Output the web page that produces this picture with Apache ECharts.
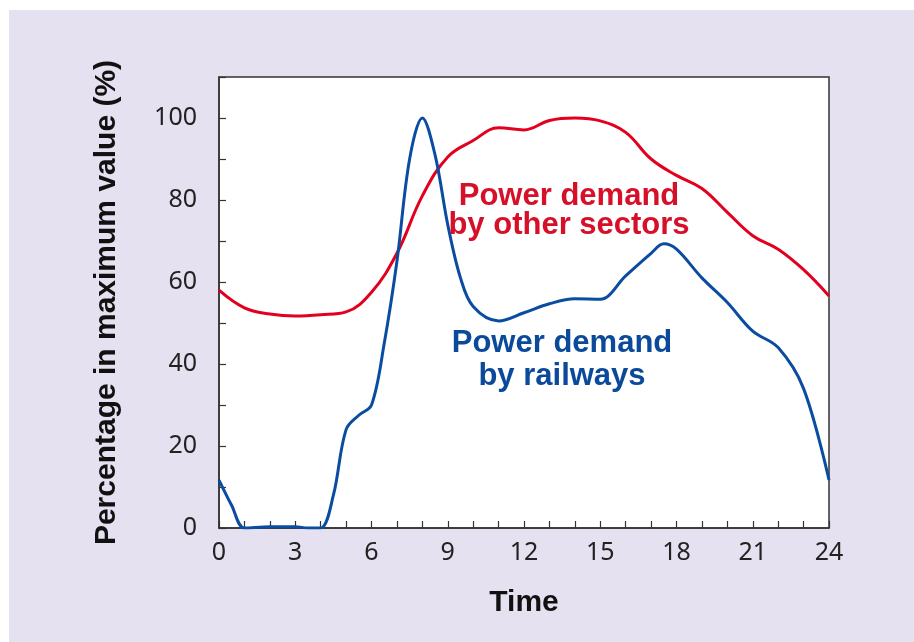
<!DOCTYPE html>
<html>
<head>
<meta charset="utf-8">
<script src="https://cdn.jsdelivr.net/npm/echarts@6/dist/echarts.min.js"></script>
<style>
html,body{margin:0;padding:0;background:#fff;}
#c{width:914px;height:642px;}
</style>
</head>
<body>
<div id="c"></div>
<script>
// Data
var railHours = [0, 0.5, 1, 2, 3, 3.5, 4, 4.5, 5, 5.5, 6, 6.5, 7, 7.5, 8, 8.5, 9, 9.5, 10, 11, 12, 13, 14, 15, 16, 17, 17.5, 18, 19, 20, 21, 22, 23, 24];
var railValues = [11.7, 5.5, 0, 0.3, 0.3, 0, 0, 8, 24, 27.5, 30, 45, 65, 90, 100, 91, 74, 61, 54, 50.5, 52.5, 54.7, 55.9, 55.8, 61.5, 67, 69.3, 68, 61, 55, 48, 44, 34, 11.7];
var otherHours = [0, 1, 2, 3, 4, 5, 6, 7, 8, 9, 10, 11, 12, 13, 14, 15, 16, 17, 18, 19, 20, 21, 22, 23, 24];
var otherValues = [58, 53.7, 52.2, 51.7, 52, 52.7, 57.5, 67, 81, 90.5, 94.5, 97.6, 97.1, 99.4, 100, 99.3, 96.5, 90, 86, 82.8, 77, 71.3, 68, 63, 56.6];
var xTicks = [0, 3, 6, 9, 12, 15, 18, 21, 24];
var yTicks = [0, 20, 40, 60, 80, 100];
var labelOther = 'Power demand\nby other sectors';
var labelRail = 'Power demand\nby railways';

function pairs(xs, ys) { return xs.map(function (x, i) { return [x, ys[i]]; }); }

var chart = echarts.init(document.getElementById('c'));
var tickFont = { fontFamily: '"Noto Sans", sans-serif', fontSize: 25, color: '#222' };
var boldFont = '"Liberation Sans", Arial, sans-serif';
chart.setOption({
  backgroundColor: '#ffffff',
  animation: false,
  graphic: [
    { type: 'rect', z: -10, shape: { x: 9, y: 10, width: 905, height: 632 }, style: { fill: '#E5E1F0' } },
    { type: 'text', z: 10, x: 569, y: 211, style: { text: labelOther, fill: '#D7102A', font: 'bold 31px ' + boldFont, textAlign: 'center', textVerticalAlign: 'middle', lineHeight: 29 } },
    { type: 'text', z: 10, x: 562, y: 360, style: { text: labelRail, fill: '#0B4A9A', font: 'bold 31px ' + boldFont, textAlign: 'center', textVerticalAlign: 'middle', lineHeight: 33 } }
  ],
  grid: { left: 219, right: 85, top: 77, bottom: 114, show: true, backgroundColor: '#ffffff', borderColor: '#333', borderWidth: 1.5 },
  xAxis: {
    type: 'value', min: 0, max: 24, interval: 3,
    name: 'Time', nameLocation: 'middle', nameGap: 60,
    nameTextStyle: { fontFamily: boldFont, fontWeight: 'bold', fontSize: 30, color: '#111' },
    axisLine: { show: true, lineStyle: { color: '#333', width: 1.5 } },
    axisTick: { show: true, inside: true, length: 7, lineStyle: { color: '#333', width: 1.2 } },
    minorTick: { show: true, splitNumber: 3, length: 7, lineStyle: { color: '#333', width: 1.2 } },
    splitLine: { show: false },
    axisLabel: Object.assign({ margin: 12, formatter: function (v) { return xTicks.indexOf(v) >= 0 ? String(v) : ''; } }, tickFont)
  },
  yAxis: {
    type: 'value', min: 0, max: 110, interval: 20,
    name: 'Percentage in maximum value (%)', nameLocation: 'middle', nameGap: 97, nameRotate: 90,
    nameTextStyle: { fontFamily: boldFont, fontWeight: 'bold', fontSize: 30, color: '#111' },
    axisLine: { show: true, lineStyle: { color: '#333', width: 1.5 } },
    axisTick: { show: true, inside: true, length: 7, lineStyle: { color: '#333', width: 1.2 } },
    minorTick: { show: true, splitNumber: 2, length: 7, lineStyle: { color: '#333', width: 1.2 } },
    splitLine: { show: false },
    axisLabel: Object.assign({ margin: 22, formatter: function (v) { return yTicks.indexOf(v) >= 0 ? String(v) : ''; } }, tickFont)
  },
  series: [
    { type: 'line', name: 'other', data: pairs(otherHours, otherValues), smooth: 0.4, symbol: 'none', lineStyle: { color: '#E3001F', width: 3 }, z: 3 },
    { type: 'line', name: 'rail', data: pairs(railHours, railValues), smooth: 0.35, symbol: 'none', lineStyle: { color: '#0A4DA0', width: 3 }, z: 4 }
  ]
});
</script>
</body>
</html>
